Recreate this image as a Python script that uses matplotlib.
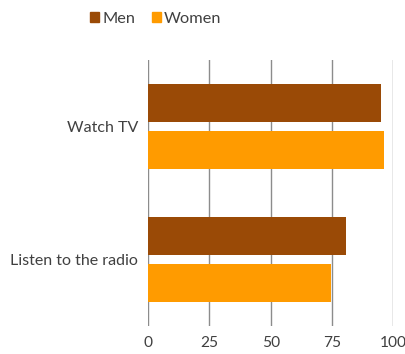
import matplotlib
matplotlib.use("Agg")
import matplotlib.pyplot as plt
from matplotlib.patches import Patch
import numpy as np

categories = ["Watch TV", "Listen to the radio"]
series_names = ["Men", "Women"]
men = [95, 80.7]
women = [96.2, 74.6]
xticks = [0, 25, 50, 75, 100]

colors = ["#9A4A06", "#FF9B00"]
text_color = "#404040"

plt.rcParams['font.family'] = ['Lato', 'DejaVu Sans']

W, H = 406, 354
fig = plt.figure(figsize=(W / 100, H / 100), dpi=100)
left, right, top, bottom = 148, 393.5, 60, 326
ax = fig.add_axes([left / W, 1 - bottom / H, (right - left) / W, (bottom - top) / H])

y = np.arange(len(categories))
h = 0.285
off = 0.176
ax.barh(y - off, men, height=h, color=colors[0], zorder=3)
ax.barh(y + off, women, height=h, color=colors[1], zorder=3)

ax.set_xlim(0, 100)
ax.set_ylim(1.5, -0.5)
ax.set_xticks(xticks)
ax.set_xticklabels([str(t) for t in xticks])
ax.set_yticks(y)
ax.set_yticklabels(categories)
ax.tick_params(axis='y', length=0, pad=7, labelsize=11.5, labelcolor=text_color)
ax.tick_params(axis='x', length=0, pad=7, labelsize=11.2, labelcolor=text_color)
ax.grid(axis='x', color='#8c8c8c', linewidth=1, zorder=0)
for s in ax.spines.values():
    s.set_visible(False)

handles = [Patch(color=c, label=n) for c, n in zip(colors, series_names)]
leg = fig.legend(handles=handles, loc='center', bbox_to_anchor=(156 / W, 1 - 19 / H),
                 ncol=2, frameon=False, fontsize=11.8, handlelength=0.55, handleheight=0.55,
                 handletextpad=0.2, columnspacing=1.0)
for t in leg.get_texts():
    t.set_color(text_color)

fig.savefig("out.png", dpi=100)
